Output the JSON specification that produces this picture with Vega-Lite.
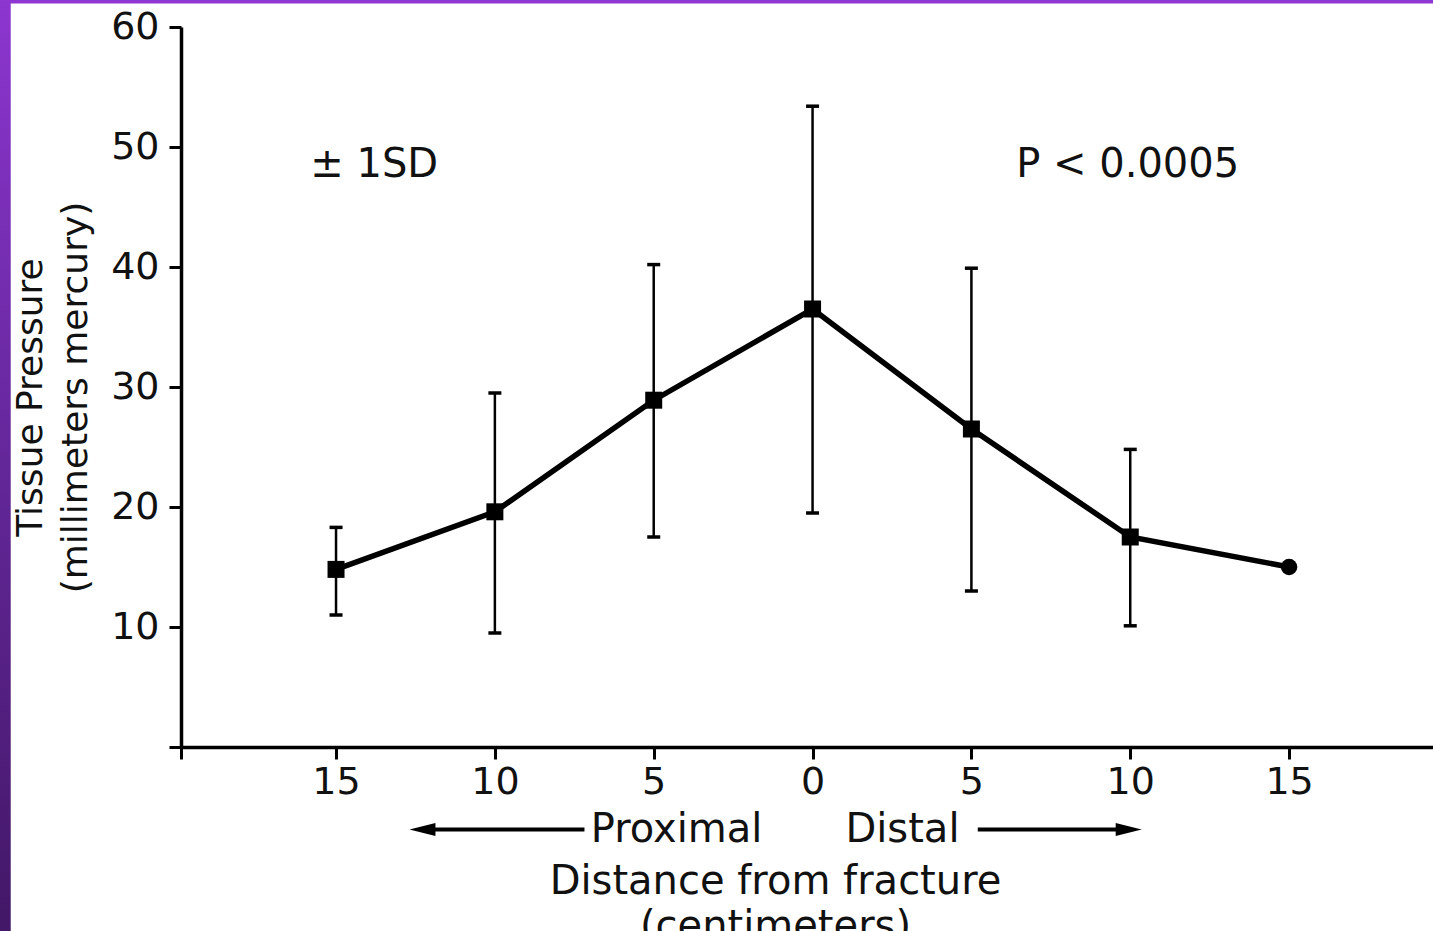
{
  "$schema": "https://vega.github.io/schema/vega-lite/v6.json",
  "width": 1252,
  "height": 720,
  "autosize": {"type": "none"},
  "padding": {"left": 181, "top": 27, "right": 0, "bottom": 184},
  "background": "white",
  "config": {
    "view": {"stroke": null},
    "font": "DejaVu Sans"
  },
  "datasets": {
    "pressure": [
      {"distance": -15, "side": "Proximal", "mean": 14.8, "lower": 11.0, "upper": 18.3},
      {"distance": -10, "side": "Proximal", "mean": 19.6, "lower": 9.5, "upper": 29.5},
      {"distance": -5, "side": "Proximal", "mean": 28.9, "lower": 17.5, "upper": 40.2},
      {"distance": 0, "side": "Fracture", "mean": 36.5, "lower": 19.5, "upper": 53.4},
      {"distance": 5, "side": "Distal", "mean": 26.5, "lower": 13.0, "upper": 39.9},
      {"distance": 10, "side": "Distal", "mean": 17.5, "lower": 10.1, "upper": 24.8},
      {"distance": 15, "side": "Distal", "mean": 15.0}
    ]
  },
  "data": {"name": "pressure"},
  "encoding": {
    "x": {
      "field": "distance",
      "type": "quantitative",
      "scale": {"domain": [-19.88, 19.53], "nice": false, "zero": false},
      "axis": {
        "values": [-19.88, -15, -10, -5, 0, 5, 10, 15],
        "labelExpr": "datum.value < -19 ? '' : format(abs(datum.value), 'd')",
        "grid": false,
        "domainColor": "#000000",
        "domainWidth": 3.5,
        "tickColor": "#000000",
        "tickWidth": 3,
        "tickSize": 12,
        "labelFont": "DejaVu Sans",
        "labelFontSize": 38,
        "labelColor": "#111111",
        "labelPadding": 4,
        "labelFlush": false,
        "labelOverlap": false,
        "title": ["Distance from fracture", "(centimeters)"],
        "titleFont": "DejaVu Sans",
        "titleFontSize": 40,
        "titleFontWeight": "normal",
        "titleColor": "#111111",
        "titleX": 594,
        "titleY": 146,
        "titleAlign": "center",
        "titleBaseline": "alphabetic",
        "titleLineHeight": 45
      }
    },
    "y": {
      "field": "mean",
      "type": "quantitative",
      "scale": {"domain": [0, 60], "nice": false},
      "axis": {
        "values": [0, 10, 20, 30, 40, 50, 60],
        "labelExpr": "datum.value == 0 ? '' : datum.label",
        "grid": false,
        "domainColor": "#000000",
        "domainWidth": 3.5,
        "tickColor": "#000000",
        "tickWidth": 3,
        "tickSize": 12,
        "labelFont": "DejaVu Sans",
        "labelFontSize": 38,
        "labelColor": "#111111",
        "labelPadding": 10,
        "labelFlush": false,
        "labelOverlap": false,
        "title": ["Tissue Pressure", "(millimeters mercury)"],
        "titleFont": "DejaVu Sans",
        "titleFontSize": 36,
        "titleFontWeight": "normal",
        "titleColor": "#111111",
        "titleAngle": -90,
        "titleX": -151,
        "titleY": 370,
        "titleAlign": "center",
        "titleBaseline": "middle",
        "titleLineHeight": 45
      }
    }
  },
  "layer": [
    {
      "transform": [{"filter": "datum.distance == 0"}],
      "mark": {"type": "rect", "color": "#8e36d2", "opacity": 1, "clip": false},
      "encoding": {
        "x": {"datum": -30},
        "x2": {"datum": 30},
        "y": {"datum": 61.96},
        "y2": {"datum": 64}
      }
    },
    {
      "transform": [{"filter": "datum.distance == 0"}],
      "mark": {
        "type": "rect",
        "clip": false,
        "opacity": 1,
        "fill": {
          "gradient": "linear",
          "x1": 0, "y1": 0, "x2": 0, "y2": 1,
          "stops": [
            {"offset": 0, "color": "#8e36d2"},
            {"offset": 0.5, "color": "#64279a"},
            {"offset": 1, "color": "#421766"}
          ]
        }
      },
      "encoding": {
        "x": {"datum": -30},
        "x2": {"datum": -25.24},
        "y": {"datum": -16},
        "y2": {"datum": 64}
      }
    },
    {
      "transform": [{"filter": "isValid(datum.upper)"}],
      "mark": {"type": "rule", "color": "#000000", "strokeWidth": 2.5},
      "encoding": {
        "y": {"field": "lower", "type": "quantitative"},
        "y2": {"field": "upper"}
      }
    },
    {
      "transform": [{"filter": "isValid(datum.upper)"}],
      "mark": {"type": "tick", "orient": "horizontal", "color": "#000000", "size": 13, "thickness": 3.5, "opacity": 1},
      "encoding": {
        "y": {"field": "upper", "type": "quantitative"}
      }
    },
    {
      "transform": [{"filter": "isValid(datum.lower)"}],
      "mark": {"type": "tick", "orient": "horizontal", "color": "#000000", "size": 13, "thickness": 3.5, "opacity": 1},
      "encoding": {
        "y": {"field": "lower", "type": "quantitative"}
      }
    },
    {
      "mark": {"type": "line", "color": "#000000", "strokeWidth": 5.5},
      "encoding": {}
    },
    {
      "transform": [{"filter": "isValid(datum.upper)"}],
      "mark": {"type": "point", "shape": "square", "filled": true, "color": "#000000", "opacity": 1, "size": 289}
    },
    {
      "transform": [{"filter": "!isValid(datum.upper)"}],
      "mark": {"type": "point", "shape": "circle", "filled": true, "color": "#000000", "opacity": 1, "size": 270}
    },
    {
      "transform": [{"filter": "datum.distance == 0"}],
      "mark": {"type": "text", "text": "± 1SD", "fontSize": 40, "font": "DejaVu Sans", "color": "#111111", "align": "center", "baseline": "middle"},
      "encoding": {"x": {"datum": -13.8}, "y": {"datum": 48.5}}
    },
    {
      "transform": [{"filter": "datum.distance == 0"}],
      "mark": {"type": "text", "text": "P < 0.0005", "fontSize": 40, "font": "DejaVu Sans", "color": "#111111", "align": "center", "baseline": "middle"},
      "encoding": {"x": {"datum": 9.92}, "y": {"datum": 48.5}}
    },
    {
      "transform": [{"filter": "datum.distance == 0"}],
      "mark": {"type": "text", "text": "Proximal", "fontSize": 40, "font": "DejaVu Sans", "color": "#111111", "align": "center", "baseline": "middle", "clip": false},
      "encoding": {"x": {"datum": -4.28}, "y": {"datum": -6.875}}
    },
    {
      "transform": [{"filter": "datum.distance == 0"}],
      "mark": {"type": "text", "text": "Distal", "fontSize": 40, "font": "DejaVu Sans", "color": "#111111", "align": "center", "baseline": "middle", "clip": false},
      "encoding": {"x": {"datum": 2.83}, "y": {"datum": -6.875}}
    },
    {
      "transform": [{"filter": "datum.distance == 0"}],
      "mark": {"type": "rule", "color": "#000000", "strokeWidth": 4, "clip": false},
      "encoding": {"x": {"datum": -12.28}, "x2": {"datum": -7.18}, "y": {"datum": -6.875}}
    },
    {
      "transform": [{"filter": "datum.distance == 0"}],
      "mark": {"type": "rule", "color": "#000000", "strokeWidth": 4, "clip": false},
      "encoding": {"x": {"datum": 5.2}, "x2": {"datum": 9.95}, "y": {"datum": -6.875}}
    },
    {
      "transform": [{"filter": "datum.distance == 0"}],
      "mark": {"type": "point", "shape": "M -1 0 L 1 -0.5 L 1 0.5 Z", "filled": true, "color": "#000000", "opacity": 1, "size": 676, "clip": false},
      "encoding": {"x": {"datum": -12.28}, "y": {"datum": -6.875}}
    },
    {
      "transform": [{"filter": "datum.distance == 0"}],
      "mark": {"type": "point", "shape": "M 1 0 L -1 -0.5 L -1 0.5 Z", "filled": true, "color": "#000000", "opacity": 1, "size": 676, "clip": false},
      "encoding": {"x": {"datum": 9.95}, "y": {"datum": -6.875}}
    }
  ]
}
